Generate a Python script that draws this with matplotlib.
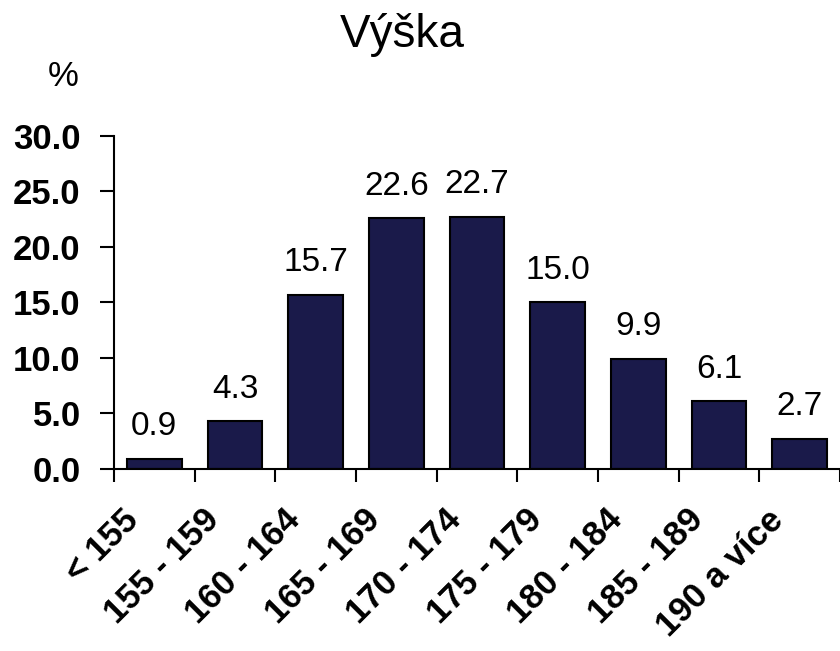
import matplotlib
matplotlib.use('Agg')
import matplotlib.pyplot as plt
import matplotlib.transforms as mtransforms
import numpy as np

plt.rcParams['font.family'] = ['Liberation Sans', 'DejaVu Sans']

kategorie = ['< 155', '155 - 159', '160 - 164', '165 - 169', '170 - 174',
             '175 - 179', '180 - 184', '185 - 189', '190 a více']
hodnoty = [0.9, 4.3, 15.7, 22.6, 22.7, 15.0, 9.9, 6.1, 2.7]
y_ticky = [0.0, 5.0, 10.0, 15.0, 20.0, 25.0, 30.0]

x = np.arange(len(kategorie)) + 0.5

fig = plt.figure(figsize=(8.4, 6.51), dpi=100)
ax = fig.add_axes([0.1357, 0.2796, 0.8643, 0.5115])

barva = '#1a1a4a'
sloupce = ax.bar(x, hodnoty, width=0.68, color=barva, edgecolor='black', linewidth=1.5)

ax.set_xlim(0, len(kategorie))
ax.set_ylim(0, 30)
ax.set_yticks(y_ticky)
ax.set_yticklabels([f'{v:.1f}' for v in y_ticky], fontsize=25, fontweight='bold')

# popisky kategorii uprostred, carky mezi kategoriemi
ax.set_xticks(x)
ax.set_xticklabels(kategorie, rotation=45, ha='right', va='center',
                   rotation_mode='anchor', fontsize=25, fontweight='bold')
ax.set_xticks(np.arange(len(kategorie) + 1), minor=True)
ax.tick_params(axis='x', which='major', length=0, pad=33)
ax.tick_params(axis='x', which='minor', length=9, width=1.5, direction='out')
ax.tick_params(axis='y', length=10, width=1.5, direction='out', pad=14)

posun = mtransforms.ScaledTranslation(-21 / 100, 0, fig.dpi_scale_trans)
for lab in ax.get_xticklabels():
    lab.set_transform(lab.get_transform() + posun)

for s in ['top', 'right']:
    ax.spines[s].set_visible(False)
for s in ['left', 'bottom']:
    ax.spines[s].set_linewidth(1.5)

# hodnoty nad sloupci
for sl, v in zip(sloupce, hodnoty):
    ax.annotate(f'{v:.1f}', (sl.get_x() + sl.get_width() / 2, sl.get_height()),
                xytext=(0, 17), textcoords='offset points',
                ha='center', va='baseline', fontsize=24)

fig.text(0.479, 0.928, 'Výška', ha='center', va='baseline', fontsize=33)
fig.text(0.075, 0.882, '%', ha='center', va='center', fontsize=25)

fig.savefig('out.png', dpi=100)
